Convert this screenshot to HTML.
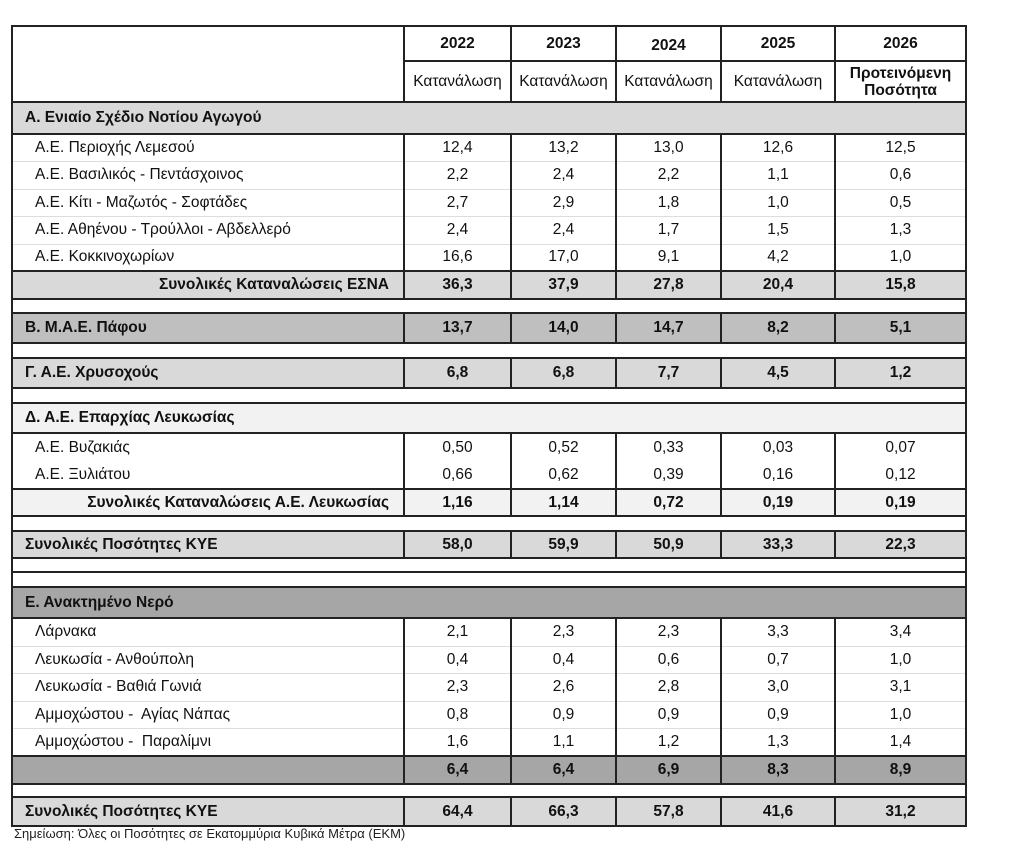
<!DOCTYPE html>
<html><head><meta charset="utf-8"><style>
body{margin:0;background:#fff;width:1024px;height:866px;position:relative;font-family:"Liberation Sans",Arial,sans-serif;color:#111}
table{position:absolute;left:11px;top:25px;border-collapse:collapse;table-layout:fixed;border:2px solid #222;font-size:15.5px}
td{padding:0;border-left:2px solid #222;border-right:2px solid #222;text-align:center;overflow:hidden;white-space:nowrap}
td.l{text-align:left;padding-left:22px}
td.h{text-align:left;padding-left:12px;font-weight:bold}
td.r{text-align:right;padding-right:14px;font-weight:bold}
tr.d td{border-bottom:1px solid #ddd}
tr.s td{border-top:2px solid #222;border-bottom:2px solid #222;font-weight:bold}
tr.sec td{border-top:2px solid #222;border-bottom:2px solid #222}
tr.sec td+td{border-left:none}
tr.b td{border-left:none;border-right:none;border-top:2px solid #222;border-bottom:2px solid #222}
tr.b td:first-child{border-left:2px solid #222}
tr.b td:last-child{border-right:2px solid #222}
.g1{background:#d9d9d9}.g2{background:#bfbfbf}.g3{background:#f2f2f2}.g4{background:#a6a6a6}
.note{position:absolute;left:14px;top:826px;font-size:13px;color:#222}
</style></head><body>
<table>
<colgroup><col style="width:392px"><col style="width:107px"><col style="width:105px"><col style="width:105px"><col style="width:114px"><col style="width:131px"></colgroup>
<tr style="height:35px;font-weight:bold"><td rowspan="2" style="border-bottom:2px solid #222"></td><td style="border-bottom:2px solid #222;border-left:none">2022</td><td style="border-bottom:2px solid #222">2023</td><td style="border-bottom:2px solid #222;padding-top:4px">2024</td><td style="border-bottom:2px solid #222">2025</td><td style="border-bottom:2px solid #222">2026</td></tr>
<tr style="height:41px"><td style="border-bottom:2px solid #222">Κατανάλωση</td><td style="border-bottom:2px solid #222">Κατανάλωση</td><td style="border-bottom:2px solid #222">Κατανάλωση</td><td style="border-bottom:2px solid #222">Κατανάλωση</td><td style="border-bottom:2px solid #222;font-weight:bold;line-height:17px">Προτεινόμενη<br>Ποσότητα</td></tr>
<tr class="sec g1" style="height:32px"><td class="h" colspan="6">Α. Ενιαίο Σχέδιο Νοτίου Αγωγού</td></tr>
<tr class="d" style="height:27px"><td class="l">Α.Ε. Περιοχής Λεμεσού</td><td>12,4</td><td>13,2</td><td>13,0</td><td>12,6</td><td>12,5</td></tr>
<tr class="d" style="height:28px"><td class="l">Α.Ε. Βασιλικός - Πεντάσχοινος</td><td>2,2</td><td>2,4</td><td>2,2</td><td>1,1</td><td>0,6</td></tr>
<tr class="d" style="height:27px"><td class="l">Α.Ε. Κίτι - Μαζωτός - Σοφτάδες</td><td>2,7</td><td>2,9</td><td>1,8</td><td>1,0</td><td>0,5</td></tr>
<tr class="d" style="height:28px"><td class="l">Α.Ε. Αθηένου - Τρούλλοι - Αβδελλερό</td><td>2,4</td><td>2,4</td><td>1,7</td><td>1,5</td><td>1,3</td></tr>
<tr style="height:27px"><td class="l">Α.Ε. Κοκκινοχωρίων</td><td>16,6</td><td>17,0</td><td>9,1</td><td>4,2</td><td>1,0</td></tr>
<tr class="s g1" style="height:28px"><td class="r">Συνολικές Καταναλώσεις ΕΣΝΑ</td><td>36,3</td><td>37,9</td><td>27,8</td><td>20,4</td><td>15,8</td></tr>
<tr class="b" style="height:14px"><td></td><td></td><td></td><td></td><td></td><td></td></tr>
<tr class="s g2" style="height:30px"><td class="h">Β. Μ.Α.Ε. Πάφου</td><td>13,7</td><td>14,0</td><td>14,7</td><td>8,2</td><td>5,1</td></tr>
<tr class="b" style="height:15px"><td></td><td></td><td></td><td></td><td></td><td></td></tr>
<tr class="s g1" style="height:30px"><td class="h">Γ. Α.Ε. Χρυσοχούς</td><td>6,8</td><td>6,8</td><td>7,7</td><td>4,5</td><td>1,2</td></tr>
<tr class="b" style="height:15px"><td></td><td></td><td></td><td></td><td></td><td></td></tr>
<tr class="sec g3" style="height:30px"><td class="h" colspan="6">Δ. Α.Ε. Επαρχίας Λευκωσίας</td></tr>
<tr style="height:28px"><td class="l">Α.Ε. Βυζακιάς</td><td>0,50</td><td>0,52</td><td>0,33</td><td>0,03</td><td>0,07</td></tr>
<tr style="height:28px"><td class="l">Α.Ε. Ξυλιάτου</td><td>0,66</td><td>0,62</td><td>0,39</td><td>0,16</td><td>0,12</td></tr>
<tr class="s g3" style="height:27px"><td class="r">Συνολικές Καταναλώσεις Α.Ε. Λευκωσίας</td><td>1,16</td><td>1,14</td><td>0,72</td><td>0,19</td><td>0,19</td></tr>
<tr class="b" style="height:15px"><td></td><td></td><td></td><td></td><td></td><td></td></tr>
<tr class="s g1" style="height:27px"><td class="h">Συνολικές Ποσότητες ΚΥΕ</td><td>58,0</td><td>59,9</td><td>50,9</td><td>33,3</td><td>22,3</td></tr>
<tr class="b" style="height:14px"><td></td><td></td><td></td><td></td><td></td><td></td></tr>
<tr class="b" style="height:15px"><td></td><td></td><td></td><td></td><td></td><td></td></tr>
<tr class="sec g4" style="height:31px"><td class="h" colspan="6">Ε. Ανακτημένο Νερό</td></tr>
<tr class="d" style="height:28px"><td class="l">Λάρνακα</td><td>2,1</td><td>2,3</td><td>2,3</td><td>3,3</td><td>3,4</td></tr>
<tr class="d" style="height:27px"><td class="l">Λευκωσία - Ανθούπολη</td><td>0,4</td><td>0,4</td><td>0,6</td><td>0,7</td><td>1,0</td></tr>
<tr class="d" style="height:28px"><td class="l">Λευκωσία - Βαθιά Γωνιά</td><td>2,3</td><td>2,6</td><td>2,8</td><td>3,0</td><td>3,1</td></tr>
<tr class="d" style="height:27px"><td class="l">Αμμοχώστου -&nbsp; Αγίας Νάπας</td><td>0,8</td><td>0,9</td><td>0,9</td><td>0,9</td><td>1,0</td></tr>
<tr style="height:28px"><td class="l">Αμμοχώστου -&nbsp; Παραλίμνι</td><td>1,6</td><td>1,1</td><td>1,2</td><td>1,3</td><td>1,4</td></tr>
<tr class="s g4" style="height:28px"><td class="r"></td><td>6,4</td><td>6,4</td><td>6,9</td><td>8,3</td><td>8,9</td></tr>
<tr class="b" style="height:13px"><td></td><td></td><td></td><td></td><td></td><td></td></tr>
<tr class="s g1" style="height:29px"><td class="h">Συνολικές Ποσότητες ΚΥΕ</td><td>64,4</td><td>66,3</td><td>57,8</td><td>41,6</td><td>31,2</td></tr>
</table>
<div class="note">Σημείωση: Όλες οι Ποσότητες σε Εκατομμύρια Κυβικά Μέτρα (ΕΚΜ)</div>
</body></html>
